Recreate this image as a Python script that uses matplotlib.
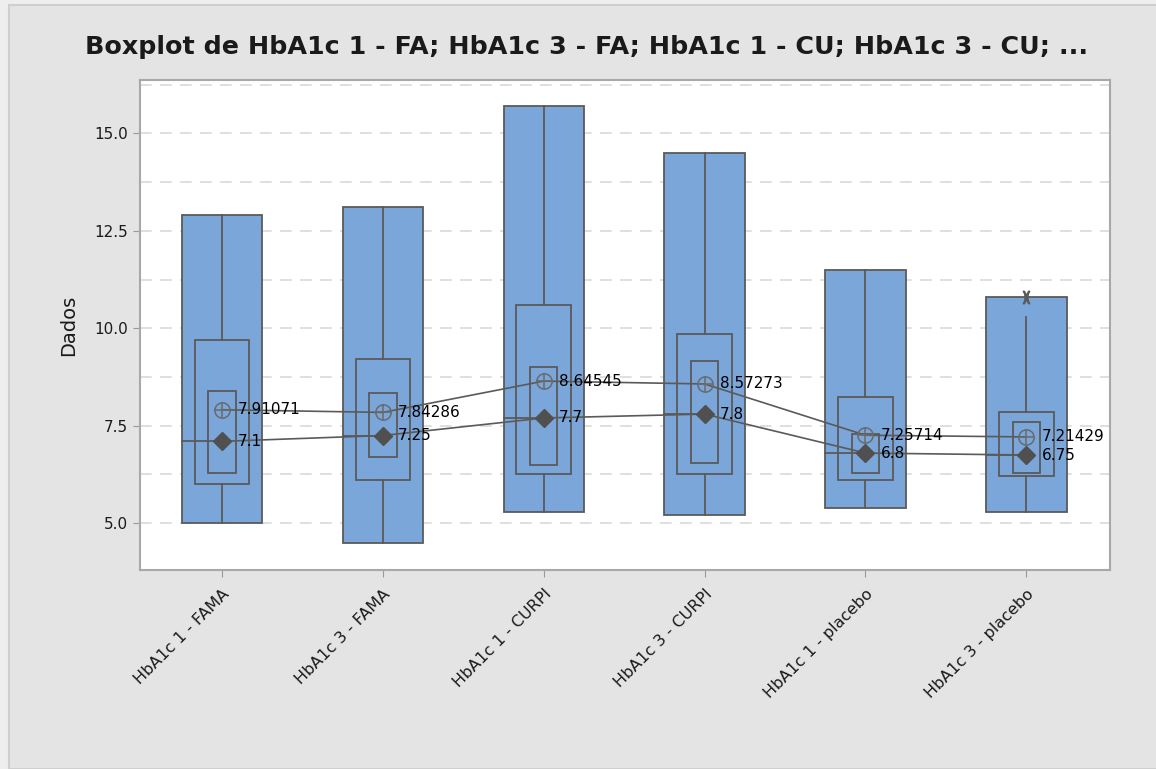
import matplotlib.pyplot as plt
from matplotlib.patches import Rectangle
import numpy as np

# Boxplot with median and mean symbols for the six HbA1c groups
groups = ["HbA1c 1 - FAMA", "HbA1c 3 - FAMA", "HbA1c 1 - CURPI",
          "HbA1c 3 - CURPI", "HbA1c 1 - placebo", "HbA1c 3 - placebo"]
data_min = [5.0, 4.5, 5.3, 5.2, 5.4, 5.3]
data_max = [12.9, 13.1, 15.7, 14.5, 11.5, 10.8]
whisker_hi = [12.9, 13.1, 15.7, 14.5, 11.5, 10.3]
q1 = [6.0, 6.1, 6.25, 6.25, 6.1, 6.2]
q3 = [9.7, 9.2, 10.6, 9.85, 8.25, 7.85]
ci_lo = [6.3, 6.7, 6.5, 6.55, 6.3, 6.3]
ci_hi = [8.4, 8.35, 9.0, 9.15, 7.3, 7.6]
medians = [7.1, 7.25, 7.7, 7.8, 6.8, 6.75]
means = [7.91071, 7.84286, 8.64545, 8.57273, 7.25714, 7.21429]
outliers = [[], [], [], [], [], [10.8]]

BLUE = "#7AA6D9"
EDGE = "#5A5A5A"
BG = "#E4E4E4"

fig = plt.figure(figsize=(11.56, 7.69), dpi=100, facecolor="#EEEEEE")
frame = Rectangle((9 / 1156, 0), 1.0, 1 - 5 / 769, transform=fig.transFigure,
                  facecolor=BG, edgecolor="#CFCFCF", lw=1.5, zorder=-1)
fig.add_artist(frame)
ax = fig.add_axes([140 / 1156, 1 - 570 / 769, 970 / 1156, 490 / 769])
ax.set_facecolor("white")

pos = np.arange(1, len(groups) + 1)
for i, x in enumerate(pos):
    # outer box
    ax.add_patch(Rectangle((x - 0.25, data_min[i]), 0.5, data_max[i] - data_min[i],
                           facecolor=BLUE, edgecolor=EDGE, lw=1.3, zorder=2))
    # whisker segments
    ax.plot([x, x], [data_min[i], q1[i]], color=EDGE, lw=1.3, zorder=3)
    ax.plot([x, x], [q3[i], whisker_hi[i]], color=EDGE, lw=1.3, zorder=3)
    # interquartile box and median interval box
    ax.add_patch(Rectangle((x - 0.17, q1[i]), 0.34, q3[i] - q1[i],
                           facecolor="none", edgecolor=EDGE, lw=1.3, zorder=3))
    ax.add_patch(Rectangle((x - 0.085, ci_lo[i]), 0.17, ci_hi[i] - ci_lo[i],
                           facecolor="none", edgecolor=EDGE, lw=1.3, zorder=3))
    # median line across the box
    ax.plot([x - 0.25, x], [medians[i], medians[i]], color=EDGE, lw=1.3, zorder=3)
    for o in outliers[i]:
        ax.plot(x, o, marker=r"$)\!($", ms=9, color=EDGE, zorder=5)

# connecting lines for means and medians
ax.plot(pos, means, color=EDGE, lw=1.2, zorder=4)
ax.plot(pos, medians, color=EDGE, lw=1.2, zorder=4)

ax.plot(pos, medians, linestyle="none", marker="D", ms=9.5, color="#505050", zorder=6)
ax.plot(pos, means, linestyle="none", marker="o", ms=11, markerfacecolor="none",
        markeredgecolor="#6A6A6A", mew=1.1, zorder=6)
ax.plot(pos, means, linestyle="none", marker="+", ms=11, color="#6A6A6A", mew=1.1, zorder=6)

for x, m, md in zip(pos, means, medians):
    ax.text(x + 0.095, m, f"{m:g}", va="center", ha="left", fontsize=11, color="black", zorder=7)
    ax.text(x + 0.095, md, f"{md:g}", va="center", ha="left", fontsize=11, color="black", zorder=7)

ax.set_xlim(0.49, 6.52)
ax.set_ylim(3.8, 16.37)
ax.set_yticks([5.0, 7.5, 10.0, 12.5, 15.0])
ax.set_yticklabels([f"{t:.1f}" for t in [5.0, 7.5, 10.0, 12.5, 15.0]])
for g in np.arange(5.0, 16.3, 1.25):
    ax.axhline(g, color="#D9D9D9", lw=1.2, dashes=(7, 5), zorder=1)

ax.set_xticks(pos)
ax.set_xticklabels(groups, rotation=45, ha="right", rotation_mode="anchor")
ax.tick_params(axis="both", colors="#9A9A9A", labelcolor="#1A1A1A", labelsize=11, length=5)
ax.tick_params(axis="x", pad=7, labelsize=11.5)
for s in ax.spines.values():
    s.set_color("#A8A8A8")
    s.set_linewidth(1.5)

ax.set_ylabel("Dados", fontsize=14, color="#1A1A1A", labelpad=12)
fig.text(0.507, 1 - 47 / 769, "Boxplot de HbA1c 1 - FA; HbA1c 3 - FA; HbA1c 1 - CU; HbA1c 3 - CU; ...",
         ha="center", va="center", fontsize=18.3, fontweight="bold", color="#1A1A1A")

fig.savefig("out.png", dpi=100, facecolor=fig.get_facecolor())
